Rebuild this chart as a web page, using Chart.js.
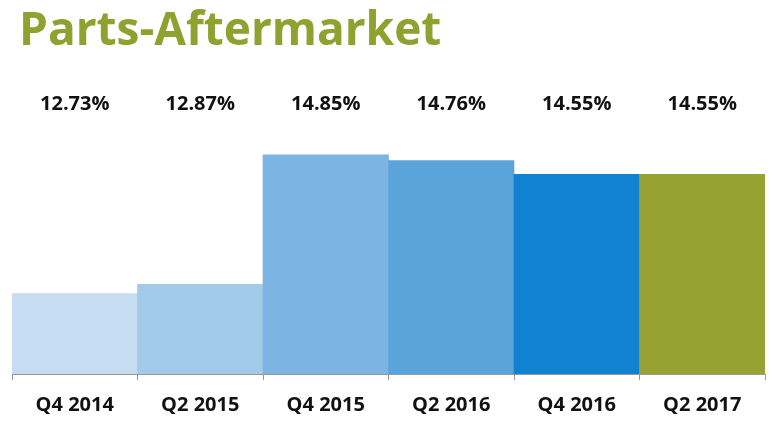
<!DOCTYPE html>
<html>
<head>
<meta charset="utf-8">
<script src="https://cdn.jsdelivr.net/npm/chart.js@4.4.0/dist/chart.umd.min.js"></script>
<style>
html,body{margin:0;padding:0;background:#fff;}
#wrap{width:775px;height:423px;}
</style>
</head>
<body>
<div id="wrap"><canvas id="c" width="775" height="423"></canvas></div>
<script>
const categories = ["Q4 2014","Q2 2015","Q4 2015","Q2 2016","Q4 2016","Q2 2017"];
const values = [12.73, 12.87, 14.85, 14.76, 14.55, 14.55];
const valueLabels = ["12.73%","12.87%","14.85%","14.76%","14.55%","14.55%"];
const barColors = ["#c6ddf1","#a2cbea","#7cb5e3","#5aa4d9","#1182d0","#97a233"];
const titleText = "Parts-Aftermarket";

const overlay = {
  id: 'overlay',
  afterDraw(chart) {
    const ctx = chart.ctx;
    ctx.save();
    ctx.fillStyle = '#8ea22f';
    ctx.font = 'bold 46px "Open Sans", sans-serif';
    ctx.textBaseline = 'alphabetic';
    ctx.textAlign = 'left';
    ctx.fillText(titleText, 19, 45);
    const meta = chart.getDatasetMeta(0);
    ctx.fillStyle = '#111111';
    ctx.font = 'bold 20px "Open Sans", sans-serif';
    ctx.textAlign = 'center';
    ctx.textBaseline = 'middle';
    meta.data.forEach((bar, i) => {
      ctx.fillText(valueLabels[i], bar.x, 104);
    });
    ctx.restore();
  }
};

new Chart(document.getElementById('c'), {
  type: 'bar',
  data: {
    labels: categories,
    datasets: [{
      data: values,
      backgroundColor: barColors,
      borderWidth: 0,
      categoryPercentage: 1,
      barPercentage: 1
    }]
  },
  options: {
    responsive: false,
    animation: false,
    layout: { padding: { left: 12, right: 10, top: 145, bottom: -7 } },
    plugins: { legend: { display: false }, tooltip: { enabled: false } },
    scales: {
      x: {
        grid: { display: true, drawOnChartArea: false, tickLength: 6, color: '#999999', offset: true },
        border: { display: true, color: '#9a9a9a', width: 1 },
        ticks: { color: '#111111', font: { family: '"Open Sans", sans-serif', size: 20, weight: 'bold' }, padding: 13 }
      },
      y: {
        display: false,
        min: 11.5,
        max: 15.0
      }
    }
  },
  plugins: [overlay]
});
</script>
</body>
</html>
